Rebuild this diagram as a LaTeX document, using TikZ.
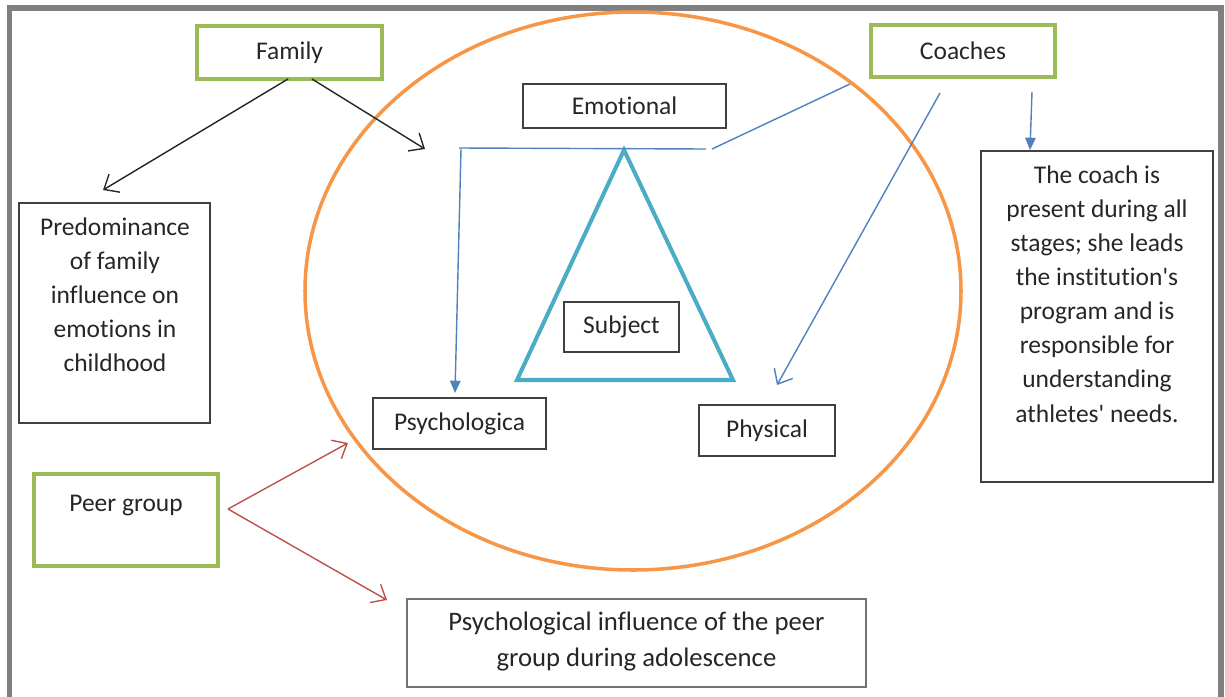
\documentclass[tikz,border=0pt]{standalone}
\usepackage{fontspec}
\setmainfont{Carlito}[Ligatures={TeX,NoCommon}]
\usetikzlibrary{arrows.meta}
\definecolor{frameg}{HTML}{808080}
\definecolor{boxgreen}{HTML}{9BBB59}
\definecolor{ellorange}{HTML}{F79646}
\definecolor{lineblue}{HTML}{4F81BD}
\definecolor{triteal}{HTML}{4BACC6}
\definecolor{arrred}{HTML}{C0504D}
\definecolor{txtc}{HTML}{262626}
\newcommand{\pxl}[1]{#1*0.02cm}
\tikzset{
  plainbox/.style={draw=black!75, line width=0.8pt, minimum width=\pxl{#1}},
  greenbox/.style={draw=boxgreen, line width=2.2pt},
  txt/.style={text=txtc, font=\fontsize{14.5}{19.4}\selectfont, align=center, inner sep=0pt},
  blk/.style={draw=black!85, line width=0.8pt, -{Straight Barb[length=7pt,width=12pt]}},
  redarr/.style={draw=arrred, line width=0.8pt, -{Straight Barb[length=7pt,width=12pt]}},
  blueln/.style={draw=lineblue, line width=0.8pt},
  bluetri/.style={blueln, -{Triangle[length=7pt,width=6pt]}},
  bluebarb/.style={blueln, -{Straight Barb[length=7pt,width=12pt]}},
}
\begin{document}
\begin{tikzpicture}[x=0.02cm, y=-0.02cm]
\useasboundingbox (0,0) rectangle (1225,697);
% frame
\draw[frameg, line width=3.2pt] (9.5,720) -- (9.5,8) -- (1221,8) -- (1221,720);
% ellipse
\draw[ellorange, line width=2pt] (633,291) ellipse [x radius=328, y radius=279];
% triangle
\coordinate (tA) at (624,150);
\coordinate (tB) at (517,380);
\coordinate (tC) at (733,380);
\draw[triteal, line width=2.3pt, line join=miter] (tA) -- (tB) -- (tC) -- cycle;

% boxes
\node[greenbox, minimum width=\pxl{185}, minimum height=\pxl{53}] (family) at (289.5,52.5) {};
\node[txt] (familyt) at (family.center) {Family};
\node[greenbox, minimum width=\pxl{184}, minimum height=\pxl{52}] (coaches) at (963,51) {};
\node[txt] (coachest) at (coaches.center) {Coaches};
\node[greenbox, minimum width=\pxl{184}, minimum height=\pxl{92}] (peer) at (126,520) {};
\node[txt] (peert) at (126,506) {Peer group};

\node[plainbox=191, minimum height=\pxl{220}] (pred) at (114.5,313) {};
\node[txt] (predt) at (115,295) {Predominance\\of family\\influence on\\emotions in\\childhood};

\node[plainbox=203, minimum height=\pxl{44}] (emo) at (624.5,106) {};
\node[txt] (emot) at (emo.center) {Emotional};

\node[plainbox=115, minimum height=\pxl{50}] (subj) at (621.5,327) {};
\node[txt] (subjt) at (subj.center) {Subject};

\node[plainbox=173, minimum height=\pxl{51}] (psy) at (459.5,423.5) {};
\node[txt] (psyt) at (psy.center) {Psychologica};

\node[plainbox=136, minimum height=\pxl{51}] (phy) at (767,430.5) {};
\node[txt] (phyt) at (phy.center) {Physical};

\node[plainbox=232, minimum height=\pxl{331}] (coachbox) at (1097,316.5) {};
\node[txt] (coacht) at (1097,294) {The coach is\\present during all\\stages; she leads\\the institution\textquotesingle s\\program and is\\responsible for\\understanding\\athletes\textquotesingle{} needs.};

\node[plainbox=459, draw=black!55, minimum height=\pxl{88}] (adol) at (636.5,643) {};
\node[txt, font=\fontsize{15.2}{20.5}\selectfont] (adolt) at (636.5,642) {Psychological influence of the peer\\group during adolescence};

% family arrows
\coordinate (fa1) at (288,79);
\coordinate (fa2) at (312,79);
\coordinate (predtip) at (103,190);
\coordinate (ringtip) at (425,149);
\draw[blk] (fa1) -- (predtip);
\draw[blk] (fa2) -- (ringtip);

% blue lines
\coordinate (hl) at (459,148);
\coordinate (hr) at (706,149);
\coordinate (psytip) at (455,393);
\coordinate (cs1) at (850,84);
\coordinate (ce1) at (712,149);
\coordinate (cs2) at (940,93);
\coordinate (phytip) at (777,385);
\coordinate (cs3) at (1032,92);
\coordinate (cbtip) at (1030,150);
\draw[blueln] (hl) -- (hr);
\draw[bluetri] (461,149) -- (psytip);
\draw[blueln] (cs1) -- (ce1);
\draw[bluebarb] (cs2) -- (phytip);
\draw[bluetri] (cs3) -- (cbtip);

% red arrows
\coordinate (pr) at (228,509);
\coordinate (rt1) at (348,443);
\coordinate (rt2) at (387,600);
\draw[redarr] (pr) -- (rt1);
\draw[redarr] (pr) -- (rt2);
\end{tikzpicture}
\end{document}
